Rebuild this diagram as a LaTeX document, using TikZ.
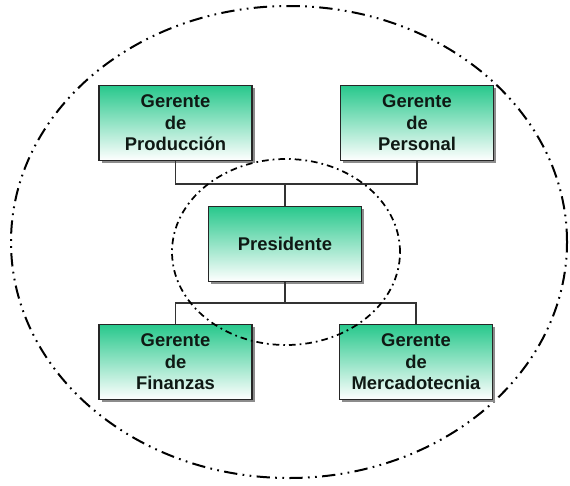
\documentclass[tikz,border=0pt]{standalone}
\usepackage{fontspec}
\setmainfont{Liberation Sans}
\usetikzlibrary{shadows}
\definecolor{boxgreen}{RGB}{40,200,140}
\definecolor{boxtext}{RGB}{15,25,20}
\begin{document}
\begin{tikzpicture}[x=0.75pt,y=-0.75pt,
  orgbox/.style={draw=black!85, line width=1.1pt, top color=boxgreen, bottom color=white,
    minimum width=153*0.75pt, minimum height=75*0.75pt, inner sep=0pt, align=center,
    font=\bfseries\fontsize{13.8}{16.2}\selectfont, text=boxtext,
    drop shadow={shadow xshift=2pt, shadow yshift=-2pt, fill=black!45, opacity=1}},
  conn/.style={draw=black!80, line width=0.9pt},
  outerring/.style={draw=black, line width=1.5pt, dash pattern=on 10pt off 4pt on 1.3pt off 4pt on 1.3pt off 4pt},
  innerring/.style={draw=black, line width=1.3pt, dash pattern=on 5pt off 3pt on 1.3pt off 3pt}]
\useasboundingbox (0,0) rectangle (570,485);
\fill[white] (0,0) rectangle (570,485);
% outer ring
\draw[outerring] (289,242) ellipse [x radius=278*0.75pt, y radius=236*0.75pt];
% boxes
\node[orgbox] (prod) at (175.5,123) {Gerente\\de\\Producción};
\node[orgbox] (pers) at (417,123) {Gerente\\de\\Personal};
\node[orgbox] (pres) at (285,244) {Presidente};
\node[orgbox] (fin) at (175.5,362) {Gerente\\de\\Finanzas};
\node[orgbox] (mer) at (416,362) {Gerente\\de\\Mercadotecnia};
% connectors
\coordinate (jt) at (285,184);
\coordinate (jb) at (285,303);
\draw[conn] (prod.south) |- (jt) -| (pers.south);
\draw[conn] (jt) -- (pres.north);
\draw[conn] (pres.south) -- (jb);
\draw[conn] (fin.north) |- (jb) -| (mer.north);
% inner ring drawn on top
\draw[innerring] (286,252) ellipse [x radius=114*0.75pt, y radius=93*0.75pt];
\end{tikzpicture}
\end{document}
